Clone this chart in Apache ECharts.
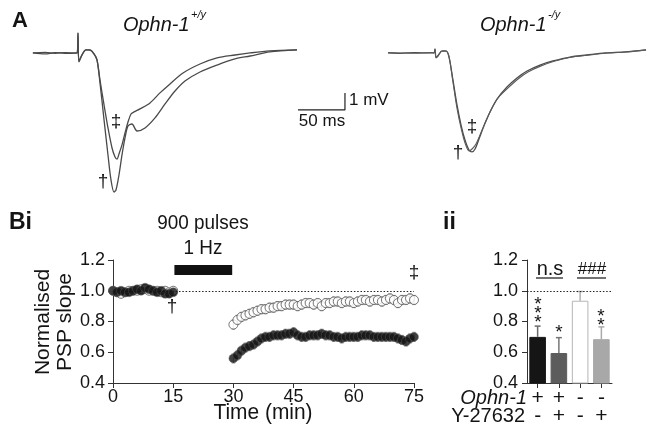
<!DOCTYPE html>
<html><head><meta charset="utf-8">
<script src="https://cdn.jsdelivr.net/npm/echarts@6/dist/echarts.min.js"></script>
<style>html,body{margin:0;padding:0;background:#fff}#c{width:648px;height:429px}</style>
</head><body><div id="c"></div>
<script>
const FONT = '"Liberation Sans", Arial, sans-serif';
const INK = '#141414';

// ---------- Panel A: example PSP traces, [ms from stimulus, mV] ----------
const wtTraceBaseline = [[-48,0],[-35,-0.06],[-24.5,0.02],[-14,-0.02],[-1,0],[0,1.18],[1,-0.53],[4.3,-0.12],[8.5,0.18],[12.8,0.18],[17,-0.06],[20.2,-0.41],[23.4,-1.76],[27.7,-3.94],[31.9,-6.0],[35.1,-7.47],[38.3,-8.18],[40.4,-8.06],[43.6,-7.18],[46.8,-6.0],[50,-5.0],[53.2,-4.29],[57.4,-4.18],[62.8,-4.59],[71.3,-4.41],[81.9,-3.82],[92.6,-3.0],[103.2,-2.24],[113.8,-1.65],[129.8,-1.12],[147.9,-0.71],[167,-0.35],[183,-0.18],[204,0.06],[233,0.18]];
const wtTraceLTD = [[-48,0],[-35,0.03],[-24.5,-0.02],[-14,0.02],[-1,0],[0,1.15],[1,-0.5],[4.3,-0.1],[8.5,0.18],[12.8,0.16],[17,-0.06],[20.2,-0.41],[23.4,-1.59],[27.7,-3.06],[31.9,-4.41],[36.2,-5.59],[39.4,-6.12],[41.5,-6.24],[43.6,-5.94],[46.8,-5.41],[50,-4.71],[53.2,-4.06],[56.4,-3.59],[59.6,-3.47],[66,-3.29],[76.6,-2.94],[87.2,-2.35],[97.9,-1.82],[111.7,-1.18],[129.8,-0.65],[147.9,-0.29],[167,-0.12],[183,0],[204,0.12],[233,0.18]];
const koTraceBaseline = [[-50,0],[-37.2,-0.02],[-21.3,0.02],[-5.3,0],[-1.1,0],[0,0.24],[1.1,-0.29],[3.2,-0.18],[7.4,0.12],[11.7,0.12],[14.9,-0.24],[19.1,-1.59],[23.4,-3.06],[27.7,-4.24],[31.9,-5.12],[36.2,-5.71],[39.4,-5.82],[42.6,-5.65],[46.8,-5.06],[52.1,-4.29],[58.5,-3.47],[66,-2.71],[76.6,-2.0],[87.2,-1.47],[97.9,-1.06],[111.7,-0.71],[125.5,-0.47],[143.6,-0.24],[161.7,-0.12],[180.9,0],[202.1,0.06],[224.5,0.18]];
const koTraceLTD = [[-50,0.02],[-37.2,0],[-21.3,-0.02],[-5.3,0.02],[-1.1,0],[0,0.2],[1.1,-0.25],[3.2,-0.15],[7.4,0.1],[11.7,0.1],[14.9,-0.2],[19.1,-1.71],[23.4,-3.24],[27.7,-4.41],[31.9,-5.29],[36.2,-5.76],[39.4,-5.65],[43.6,-5.35],[47.9,-4.82],[53.2,-4.12],[59.6,-3.35],[67,-2.65],[77.7,-2.06],[88.3,-1.53],[98.9,-1.12],[112.8,-0.76],[127.7,-0.47],[145.7,-0.24],[164.9,-0.12],[184,0],[205.3,0.06],[224.5,0.18]];
const scaleBar = [[234,-3.35],[284,-3.35],[284,-2.35]]; // 50 ms, 1 mV

// ---------- Panel Bi: time course ----------
const timeMin = [0,1,2,3,4,5,6,7,8,9,10,11,12,13,14,15,30,31,32,33,34,35,36,37,38,39,40,41,42,43,44,45,46,47,48,49,50,51,52,53,54,55,56,57,58,59,60,61,62,63,64,65,66,67,68,69,70,71,72,73,74,75];
const wtSlope = [1.00,0.99,1.00,0.99,0.99,1.00,1.01,1.00,1.02,1.01,1.00,0.99,1.00,0.98,0.98,0.99,
  0.56,0.58,0.61,0.63,0.64,0.65,0.67,0.69,0.70,0.70,0.71,0.71,0.71,0.72,0.72,0.73,0.71,0.70,0.70,0.71,0.71,0.71,0.72,0.71,0.71,0.70,0.70,0.69,0.70,0.70,0.70,0.70,0.71,0.71,0.71,0.70,0.70,0.70,0.70,0.70,0.70,0.69,0.68,0.67,0.69,0.70];
const koSlope = [1.00,0.99,0.98,0.99,1.00,1.00,1.00,1.01,1.01,1.00,1.00,1.00,0.99,1.00,0.99,1.00,
  0.78,0.81,0.83,0.84,0.85,0.86,0.87,0.88,0.88,0.89,0.89,0.90,0.90,0.91,0.91,0.91,0.90,0.91,0.92,0.92,0.91,0.92,0.90,0.92,0.92,0.93,0.93,0.92,0.93,0.93,0.92,0.93,0.94,0.94,0.93,0.94,0.94,0.93,0.94,0.95,0.94,0.92,0.94,0.94,0.95,0.94];
const wtErr = [0.02,0.02,0.02,0.02,0.02,0.02,0.02,0.02,0.02,0.02,0.02,0.02,0.02,0.02,0.02,0.02,
  0.03,0.03,0.03,0.03,0.03,0.03,0.03,0.03,0.03,0.03,0.03,0.03,0.03,0.03,0.03,0.03,0.03,0.03,0.03,0.03,0.03,0.03,0.03,0.03,0.03,0.03,0.03,0.03,0.03,0.03,0.03,0.03,0.03,0.03,0.03,0.03,0.03,0.03,0.03,0.03,0.03,0.03,0.03,0.03,0.03,0.03];
const koErr = [0.02,0.02,0.02,0.02,0.02,0.02,0.02,0.02,0.02,0.02,0.02,0.02,0.02,0.02,0.02,0.02,
  0.03,0.03,0.03,0.03,0.03,0.03,0.03,0.03,0.03,0.03,0.03,0.03,0.03,0.03,0.03,0.03,0.03,0.03,0.03,0.03,0.03,0.03,0.03,0.03,0.03,0.03,0.03,0.03,0.03,0.03,0.03,0.03,0.03,0.03,0.03,0.03,0.03,0.03,0.03,0.03,0.03,0.03,0.03,0.03,0.03,0.03];
const stimBlock = [[15.3,1.135],[29.7,1.135]];

// ---------- Panel ii: summary bars ----------
const groups = ['WT','WT + Y-27632','KO','KO + Y-27632'];
const ophnSigns = ['+','+','-','-'];
const drugSigns = ['-','+','-','+'];
const ltdMean = [0.70,0.595,0.935,0.685];
const ltdSem = [0.07,0.10,0.06,0.08];
const barColors = ['#151515','#5c5c5c','#ffffff','#a8a8a8'];
const barBorders = ['#151515','#5c5c5c','#b5b5b5','#a8a8a8'];
const errColors = ['#6a6a6a','#777777','#b0b0b0','#aaaaaa'];

function txt(x,y,text,size,opt){
  opt = opt||{};
  return {type:'text', x:x, y:y, rotation: opt.rot||0, scaleX: opt.sx||1, z:50,
    style:{text:text, font:(opt.style||'')+' '+(opt.weight||'normal')+' '+size+'px '+FONT,
      fill: opt.fill||INK, textAlign: opt.align||'center', textVerticalAlign: opt.va||'middle'}};
}

const chart = echarts.init(document.getElementById('c'), null, {renderer:'canvas'});

function errBarsB(color){
  return function(params, api){
    const x = api.value(0), y = api.value(1), e = api.value(2);
    const t = api.coord([x, y+e]), b = api.coord([x, y-e]);
    const w = 1.8, st = {stroke:color, lineWidth:0.9};
    return {type:'group', children:[
      {type:'line', shape:{x1:t[0],y1:t[1],x2:b[0],y2:b[1]}, style:st},
      {type:'line', shape:{x1:t[0]-w,y1:t[1],x2:t[0]+w,y2:t[1]}, style:st},
      {type:'line', shape:{x1:b[0]-w,y1:b[1],x2:b[0]+w,y2:b[1]}, style:st}
    ]};
  };
}

const axisTextB = {color:INK, fontFamily:FONT, fontSize:18};

const option = {
  backgroundColor:'#fff',
  animation:false,
  grid:[
    {left:31, top:30, width:319.6, height:170},
    {left:388, top:30, width:258.5, height:170},
    {left:113, top:260, width:301, height:123},
    {left:527, top:260, width:85, height:123}
  ],
  xAxis:[
    {gridIndex:0, type:'value', min:-50, max:290, show:false},
    {gridIndex:1, type:'value', min:-50, max:225, show:false},
    {gridIndex:2, type:'value', min:0, max:75, interval:15,
      axisLine:{show:true, lineStyle:{color:'#333', width:1}},
      axisTick:{show:true, length:5, lineStyle:{color:'#333'}},
      axisLabel:Object.assign({margin:5}, axisTextB),
      splitLine:{show:false}},
    {gridIndex:3, type:'category', data:groups,
      axisLine:{show:true, lineStyle:{color:'#333', width:1}},
      axisTick:{show:true, alignWithLabel:true, length:5, lineStyle:{color:'#333'}},
      axisLabel:{color:INK, fontFamily:FONT, fontSize:21, lineHeight:18, margin:6, interval:0,
        formatter:(v,i)=>ophnSigns[i]+'\n'+drugSigns[i]},
      splitLine:{show:false}}
  ],
  yAxis:[
    {gridIndex:0, type:'value', min:-8.65, max:1.35, show:false},
    {gridIndex:1, type:'value', min:-8.65, max:1.35, show:false},
    {gridIndex:2, type:'value', min:0.4, max:1.2, interval:0.2,
      axisLine:{show:true, lineStyle:{color:'#333', width:1}},
      axisTick:{show:true, length:5, lineStyle:{color:'#333'}},
      axisLabel:Object.assign({margin:8, formatter:v=>v.toFixed(1)}, axisTextB),
      splitLine:{show:false}},
    {gridIndex:3, type:'value', min:0.4, max:1.2, interval:0.2,
      axisLine:{show:true, lineStyle:{color:'#333', width:1}},
      axisTick:{show:true, length:5, lineStyle:{color:'#333'}},
      axisLabel:Object.assign({margin:9, formatter:v=>v.toFixed(1)}, axisTextB),
      splitLine:{show:false}}
  ],
  series:[
    {type:'line', xAxisIndex:0, yAxisIndex:0, data:wtTraceBaseline, showSymbol:false, smooth:0.3,
      lineStyle:{color:'#4a4a4a', width:1.3}},
    {type:'line', xAxisIndex:0, yAxisIndex:0, data:wtTraceLTD, showSymbol:false, smooth:0.3,
      lineStyle:{color:'#4a4a4a', width:1.3}},
    {type:'line', xAxisIndex:0, yAxisIndex:0, data:scaleBar, showSymbol:false,
      lineStyle:{color:'#222', width:1.2}},
    {type:'line', xAxisIndex:1, yAxisIndex:1, data:koTraceBaseline, showSymbol:false, smooth:0.3,
      lineStyle:{color:'#4a4a4a', width:1.3}},
    {type:'line', xAxisIndex:1, yAxisIndex:1, data:koTraceLTD, showSymbol:false, smooth:0.3,
      lineStyle:{color:'#5a5a5a', width:1.1}},
    {type:'line', xAxisIndex:2, yAxisIndex:2, data:stimBlock, showSymbol:false,
      lineStyle:{color:'#111', width:10, cap:'butt'}, z:3},
    {type:'custom', xAxisIndex:2, yAxisIndex:2, renderItem:errBarsB('#9a9a9a'),
      data:timeMin.map((t,i)=>[t, koSlope[i], koErr[i]]), encode:{x:0,y:1}, z:2},
    {type:'custom', xAxisIndex:2, yAxisIndex:2, renderItem:errBarsB('#9a9a9a'),
      data:timeMin.map((t,i)=>[t, wtSlope[i], wtErr[i]]), encode:{x:0,y:1}, z:2},
    {type:'scatter', xAxisIndex:2, yAxisIndex:2, data:timeMin.map((t,i)=>[t, koSlope[i]]),
      symbol:'circle', symbolSize:9, itemStyle:{color:'#fff', borderColor:'#555', borderWidth:1}, z:4,
      markLine:{silent:true, symbol:'none', label:{show:false},
        lineStyle:{color:'#222', type:[1.5,1.8], width:1}, data:[{yAxis:1.0}]}},
    {type:'scatter', xAxisIndex:2, yAxisIndex:2, data:timeMin.map((t,i)=>[t, wtSlope[i]]),
      symbol:'circle', symbolSize:9, itemStyle:{color:'#111', borderColor:'#666', borderWidth:0.5}, z:5},
    {type:'bar', xAxisIndex:3, yAxisIndex:3, barWidth:'78%', clip:true,
      data:ltdMean.map((v,i)=>({value:v, itemStyle:{color:barColors[i], borderColor:barBorders[i], borderWidth:1}})),
      markLine:{silent:true, symbol:'none', label:{show:false},
        lineStyle:{color:'#222', type:[1.5,1.8], width:1}, data:[{yAxis:1.0}]}},
    {type:'custom', xAxisIndex:3, yAxisIndex:3, z:3,
      data:ltdMean.map((v,i)=>[i, v, ltdSem[i]]), encode:{x:0,y:1},
      renderItem:function(params, api){
        const i = api.value(0), v = api.value(1), e = api.value(2);
        const b = api.coord([i, v]), t = api.coord([i, v+e]);
        const st = {stroke:errColors[params.dataIndex], lineWidth:1.5};
        return {type:'group', children:[
          {type:'line', shape:{x1:b[0],y1:b[1],x2:t[0],y2:t[1]}, style:st},
          {type:'line', shape:{x1:t[0]-3,y1:t[1],x2:t[0]+3,y2:t[1]}, style:st}
        ]};
      }}
  ],
  graphic:[
    txt(12,21,'A',22,{weight:'bold', align:'left'}),
    txt(123,25,'Ophn-1',21,{style:'italic', align:'left', sx:0.95}),
    txt(191,15,'+/y',11,{style:'italic', align:'left'}),
    txt(480,25,'Ophn-1',21,{style:'italic', align:'left', sx:0.95}),
    txt(548,15,'-/y',11,{style:'italic', align:'left'}),
    txt(116,122,'‡',19), txt(103,182,'†',19),
    txt(472,127,'‡',19), txt(458,153,'†',19),
    txt(349,100,'1 mV',17,{align:'left'}),
    txt(322,121,'50 ms',17),
    txt(9,223,'Bi',23,{weight:'bold', align:'left'}),
    txt(203,223,'900 pulses',21,{sx:0.9}),
    txt(203,248,'1 Hz',21,{sx:0.9}),
    txt(43,322,'Normalised',21,{rot:Math.PI/2}),
    txt(65,322,'PSP slope',21,{rot:Math.PI/2}),
    txt(263,413,'Time (min)',22,{sx:0.95}),
    txt(172,307,'†',19), txt(414,273,'‡',19),
    txt(443,223,'ii',23,{weight:'bold', align:'left'}),
    txt(550,269,'n.s',20),
    {type:'line', shape:{x1:536,y1:278,x2:563,y2:278}, style:{stroke:INK, lineWidth:1.2}},
    txt(592,269,'###',17),
    {type:'line', shape:{x1:577,y1:278,x2:606,y2:278}, style:{stroke:INK, lineWidth:1.2}},
    txt(538,305,'*',19), txt(538,314,'*',19), txt(538,323,'*',19),
    txt(559,333,'*',19),
    txt(601,317,'*',19), txt(601,326,'*',19),
    txt(527,398,'Ophn-1',20,{style:'italic', align:'right'}),
    txt(525,416,'Y-27632',20,{align:'right'})
  ]
};
chart.setOption(option);
</script></body></html>
